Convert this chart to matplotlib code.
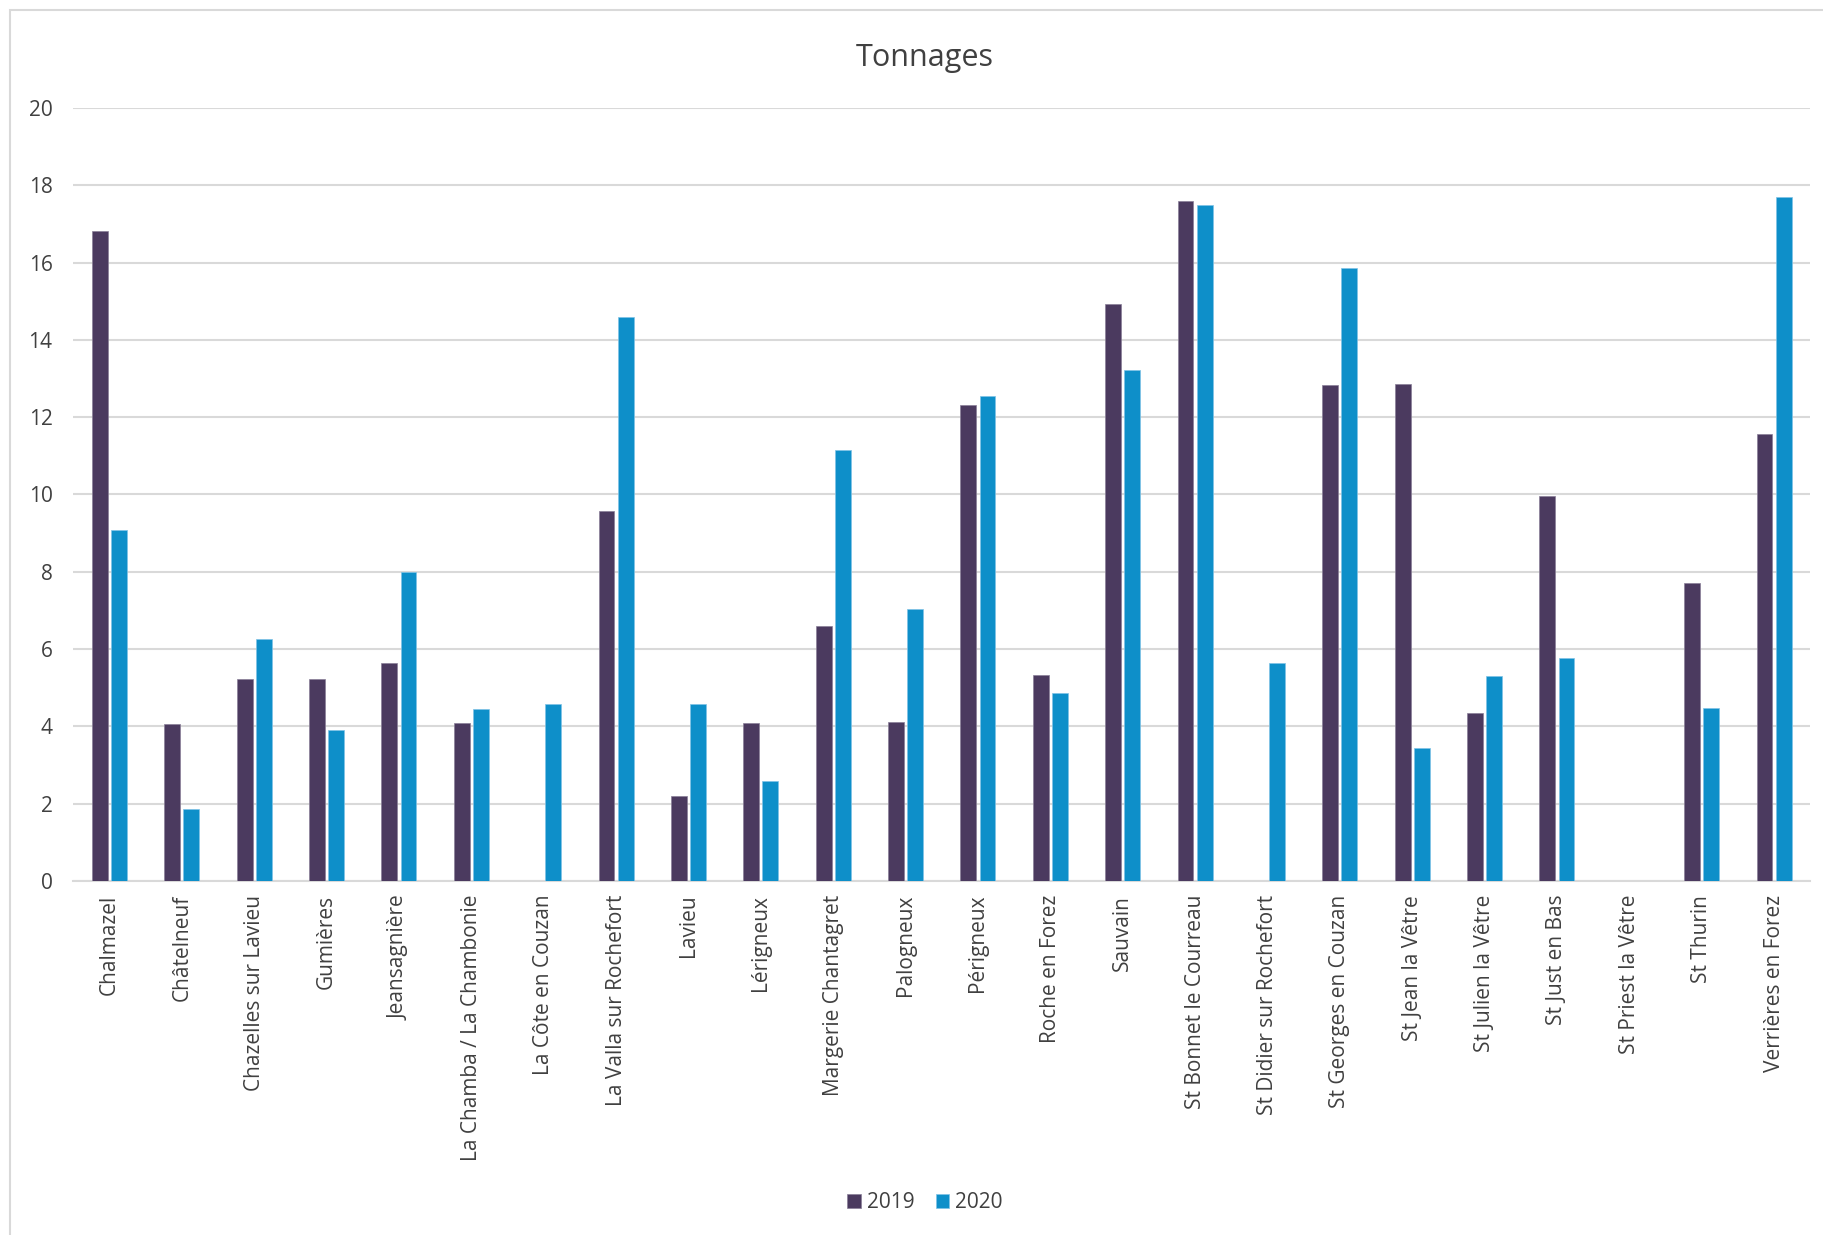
import matplotlib
matplotlib.use("Agg")
import matplotlib.pyplot as plt
import numpy as np
from matplotlib.patches import Rectangle

categories = ["Chalmazel", "Châtelneuf", "Chazelles sur Lavieu", "Gumières", "Jeansagnière",
              "La Chamba / La Chambonie", "La Côte en Couzan", "La Valla sur Rochefort", "Lavieu",
              "Lérigneux", "Margerie Chantagret", "Palogneux", "Périgneux", "Roche en Forez",
              "Sauvain", "St Bonnet le Courreau", "St Didier sur Rochefort", "St Georges en Couzan",
              "St Jean la Vêtre", "St Julien la Vêtre", "St Just en Bas", "St Priest la Vêtre",
              "St Thurin", "Verrières en Forez"]
values_2019 = [16.82, 4.05, 5.22, 5.22, 5.65, 4.08, 0, 9.58, 2.19, 4.08, 6.6, 4.11, 12.31, 5.32,
               14.92, 17.6, 0, 12.82, 12.85, 4.35, 9.97, 0, 7.72, 11.56]
values_2020 = [9.07, 1.86, 6.27, 3.9, 7.99, 4.44, 4.59, 14.6, 4.59, 2.58, 11.14, 7.03, 12.55, 4.86,
               13.21, 17.5, 5.65, 15.86, 3.45, 5.29, 5.77, 0, 4.47, 17.69]
series_labels = ["2019", "2020"]
yticks = [0, 2, 4, 6, 8, 10, 12, 14, 16, 18, 20]
title = "Tonnages"

plt.rcParams['font.family'] = ['Open Sans', 'DejaVu Sans']

fig = plt.figure(figsize=(18.23, 12.35), dpi=100)
fig.patches.append(Rectangle((10/1823, -0.1), 1.2, 1.1 - 10/1235, transform=fig.transFigure,
                             fill=False, edgecolor="#D9D9D9", linewidth=1.5, zorder=0))
ax = fig.add_axes([0.0402, 0.2867, 0.9528, 0.6259])

x = np.arange(len(categories))
w = 0.22
off = 0.132
c19 = "#4B3A5F"
c20 = "#0E8FC9"
ax.bar(x - off, values_2019, w, color=c19, edgecolor="#8A7F98", linewidth=0.5, label=series_labels[0], zorder=3)
ax.bar(x + off, values_2020, w, color=c20, edgecolor="#7FC3E6", linewidth=0.5, label=series_labels[1], zorder=3)

ax.set_xlim(-0.5, len(categories) - 0.5)
ax.set_ylim(0, 20)
ax.set_yticks(yticks)
ax.set_yticklabels([str(t) for t in yticks])
ax.yaxis.grid(True, color="#D9D9D9", linewidth=1.5, zorder=0)
ax.set_axisbelow(True)
for s in ["top", "right", "left"]:
    ax.spines[s].set_visible(False)
ax.spines["bottom"].set_color("#D9D9D9")
ax.spines["bottom"].set_linewidth(1.5)
ax.set_xticks(x)
ax.set_xticklabels(categories, rotation=90, ha="center", va="top")
ax.tick_params(axis="both", length=0, labelsize=15, labelcolor="#404040")
ax.tick_params(axis="y", pad=15)
ax.tick_params(axis="x", pad=10)

fig.text(0.5075, 0.953, title, ha="center", va="center", fontsize=22, color="#404040")

leg = fig.legend(loc="center", bbox_to_anchor=(0.5075, 0.026), ncol=2, frameon=False,
                 fontsize=15, handlelength=0.65, handleheight=0.65, handletextpad=0.3,
                 columnspacing=1.0)
for t in leg.get_texts():
    t.set_color("#404040")

fig.savefig("out.png", dpi=100, facecolor="white")
